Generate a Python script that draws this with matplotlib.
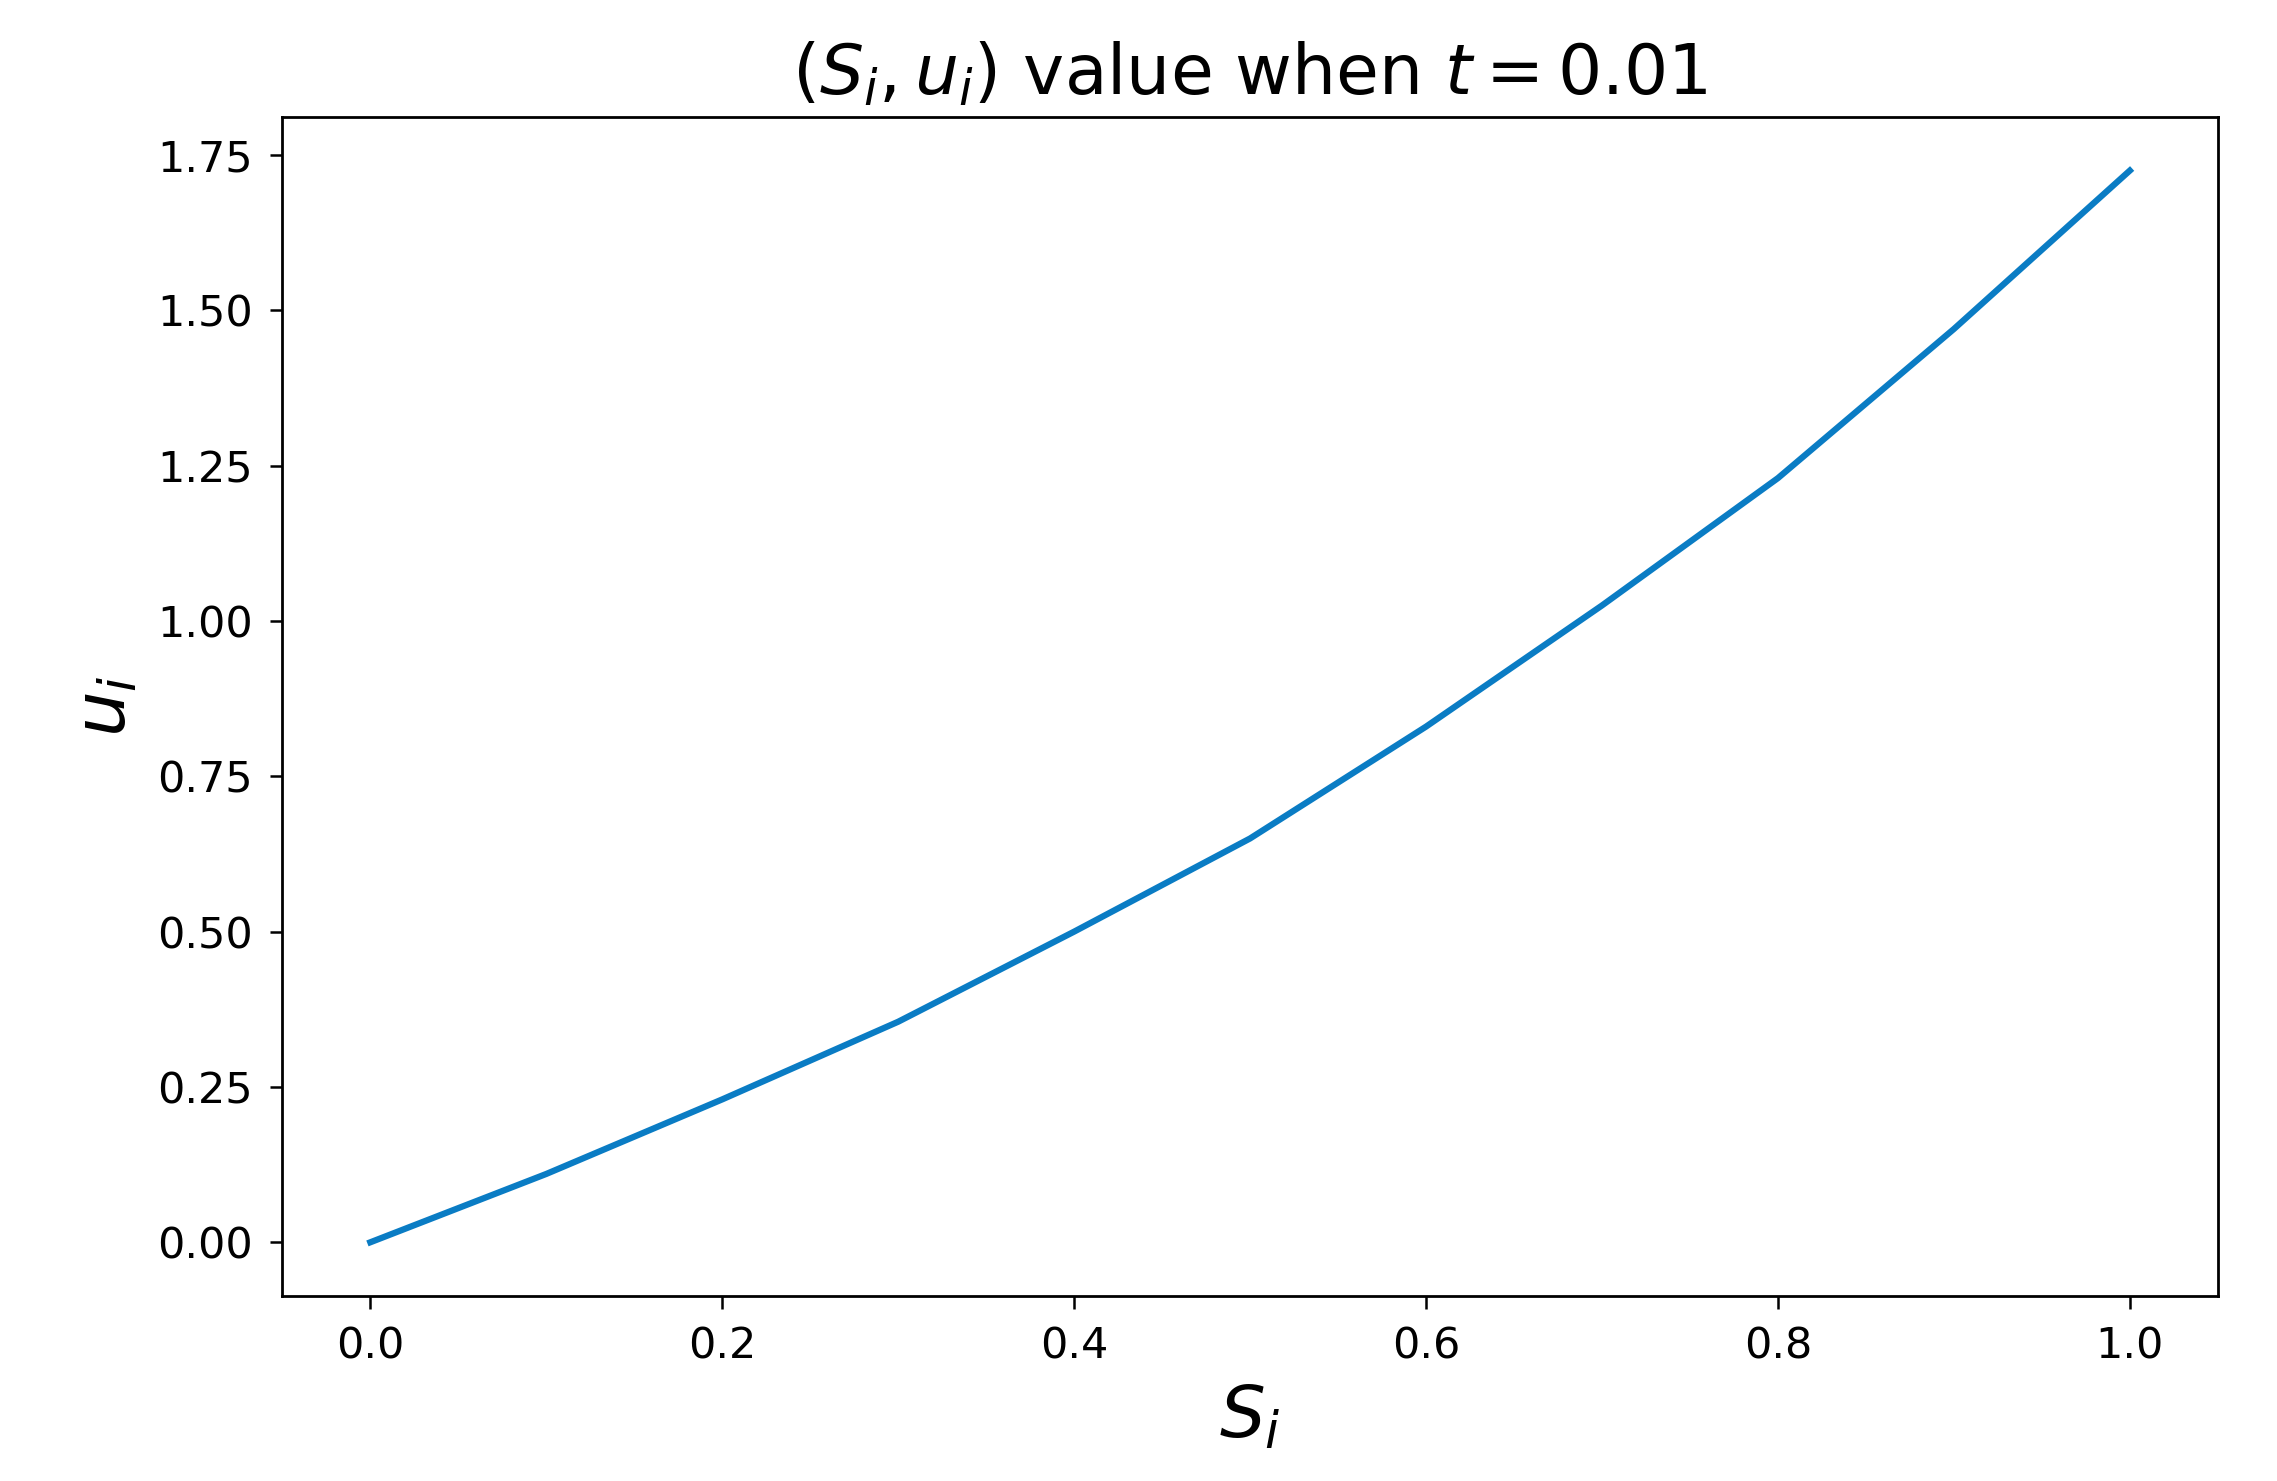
import matplotlib
matplotlib.use("Agg")
import matplotlib.pyplot as plt

# values
s_vals = [0.0, 0.1, 0.2, 0.3, 0.4, 0.5, 0.6, 0.7, 0.8, 0.9, 1.0]
u_vals = [0.0, 0.11, 0.23, 0.355, 0.50, 0.65, 0.83, 1.025, 1.23, 1.47, 1.725]

fig = plt.figure(figsize=(22.77, 14.81), dpi=100)
ax = fig.add_axes([0.124, 0.125, 0.850, 0.796])

ax.plot(s_vals, u_vals, color='#0a7cc4', linewidth=4.5)

ax.set_xticks([0.0, 0.2, 0.4, 0.6, 0.8, 1.0])
ax.set_yticks([0.0, 0.25, 0.5, 0.75, 1.0, 1.25, 1.5, 1.75])
ax.tick_params(labelsize=31, length=9, width=1.8, pad=12)
for sp in ax.spines.values():
    sp.set_linewidth(2)

ax.set_xlabel(r'$S_i$', fontsize=52, labelpad=12)
ax.set_ylabel(r'$u_i$', fontsize=52, labelpad=12)
ax.set_title(r'$(S_i, u_i)$ value when $t = 0.01$', fontsize=50, pad=16)

fig.savefig('out.png', dpi=100)
